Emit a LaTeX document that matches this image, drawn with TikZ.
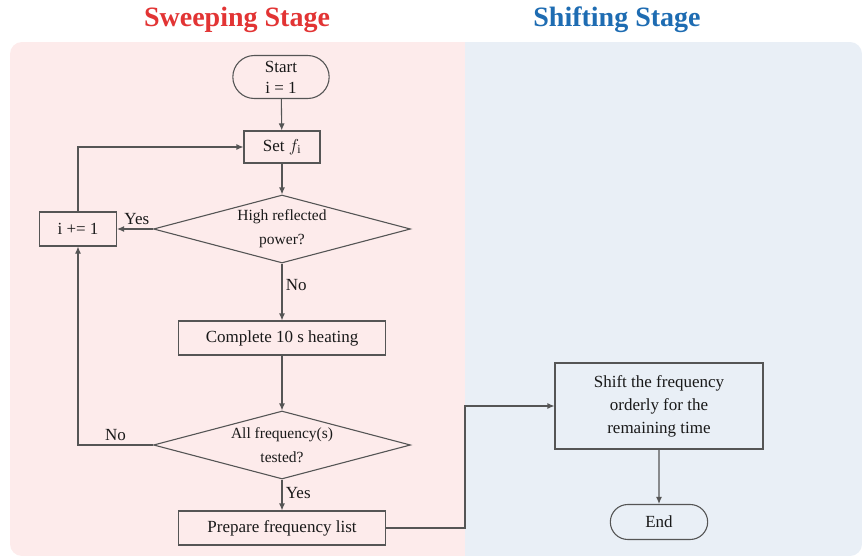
\documentclass[tikz,border=0pt]{standalone}
\usepackage{fontspec}
\setmainfont{Liberation Serif}
\usepackage{tikz}
\usetikzlibrary{arrows.meta,calc,positioning,shapes.geometric,shapes.misc}
\definecolor{sweepbg}{RGB}{253,235,235}
\definecolor{shiftbg}{RGB}{233,239,246}
\definecolor{sweepred}{RGB}{226,52,52}
\definecolor{shiftblue}{RGB}{30,108,178}
\definecolor{flowline}{RGB}{85,85,85}

\begin{document}
\begin{tikzpicture}[x=1pt,y=-1pt,
    line width=1.1pt, draw=flowline,
    every node/.style={font=\fontsize{17}{23}\selectfont, text=black!90},
    proc/.style={draw=flowline, rectangle, minimum height=34pt, align=center},
    term/.style={draw=flowline, rounded rectangle, align=center},
    decide/.style={draw=flowline, diamond, shape aspect=3.78, minimum width=257pt,
      minimum height=68pt, inner sep=0pt, align=center, font=\fontsize{15.5}{24}\selectfont},
    flow/.style={draw=flowline, -{Latex[length=7pt,width=6pt]}},
    lbl/.style={font=\fontsize{17}{20}\selectfont},
    title/.style={font=\fontsize{28}{30}\selectfont\bfseries}]
  \useasboundingbox (0,0) rectangle (867,556);
  % stage backgrounds
  \begin{scope}
    \clip[rounded corners=12pt] (10,42) rectangle (862,556);
    \fill[sweepbg] (10,42) rectangle (465,556);
    \fill[shiftbg] (465,42) rectangle (862,556);
  \end{scope}
  \node[title, text=sweepred]  (ttlsweep) at (237,20) {Sweeping Stage};
  \node[title, text=shiftblue] (ttlshift) at (617,20) {Shifting Stage};

  % sweeping stage
  \node[term, minimum width=103pt, minimum height=43pt] (start) at (281,77) {Start\\[-2pt]i = 1};
  \node[proc, minimum width=76pt, minimum height=32pt] (setf) at (282,147) {Set $f_{\mathrm{i}}$};
  \node[decide] (refl) at (282,229) {High reflected\\power?};
  \node[proc, minimum width=77pt] (incr) at (78,229) {i += 1};
  \node[proc, minimum width=207pt] (heat) at (282,338) {Complete 10 s heating};
  \node[decide] (alltest) at (282,445) {All frequency(s)\\tested?};
  \node[proc, minimum width=207pt] (prep) at (282,528) {Prepare frequency list};

  % shifting stage
  \node[proc, minimum width=208pt, minimum height=86pt] (shift) at (659,406) {Shift the frequency\\orderly for the\\remaining time};
  \node[term, minimum width=104pt, minimum height=35pt] (stop) at (659,522) {End};

  \coordinate (jmp) at (465,0);

  \draw[flow] (start) -- (setf);
  \draw[flow] (setf) -- (refl);
  \draw[flow] (refl) -- node[lbl, above, pos=0.45] {Yes} (incr);
  \draw[flow] (refl) -- node[lbl, right, pos=0.38] {No} (heat);
  \draw[flow] (heat) -- (alltest);
  \draw[flow] (alltest) -- node[lbl, right, pos=0.45] {Yes} (prep);
  \draw[flow] (incr.north) |- (setf.west);
  \draw[flow] (alltest.west) -| node[lbl, above, pos=0.25] {No} (incr.south);
  \draw[flow] (prep.east) -| (jmp |- shift.west) -- (shift.west);
  \draw[flow] (shift) -- (stop);
\end{tikzpicture}
\end{document}
